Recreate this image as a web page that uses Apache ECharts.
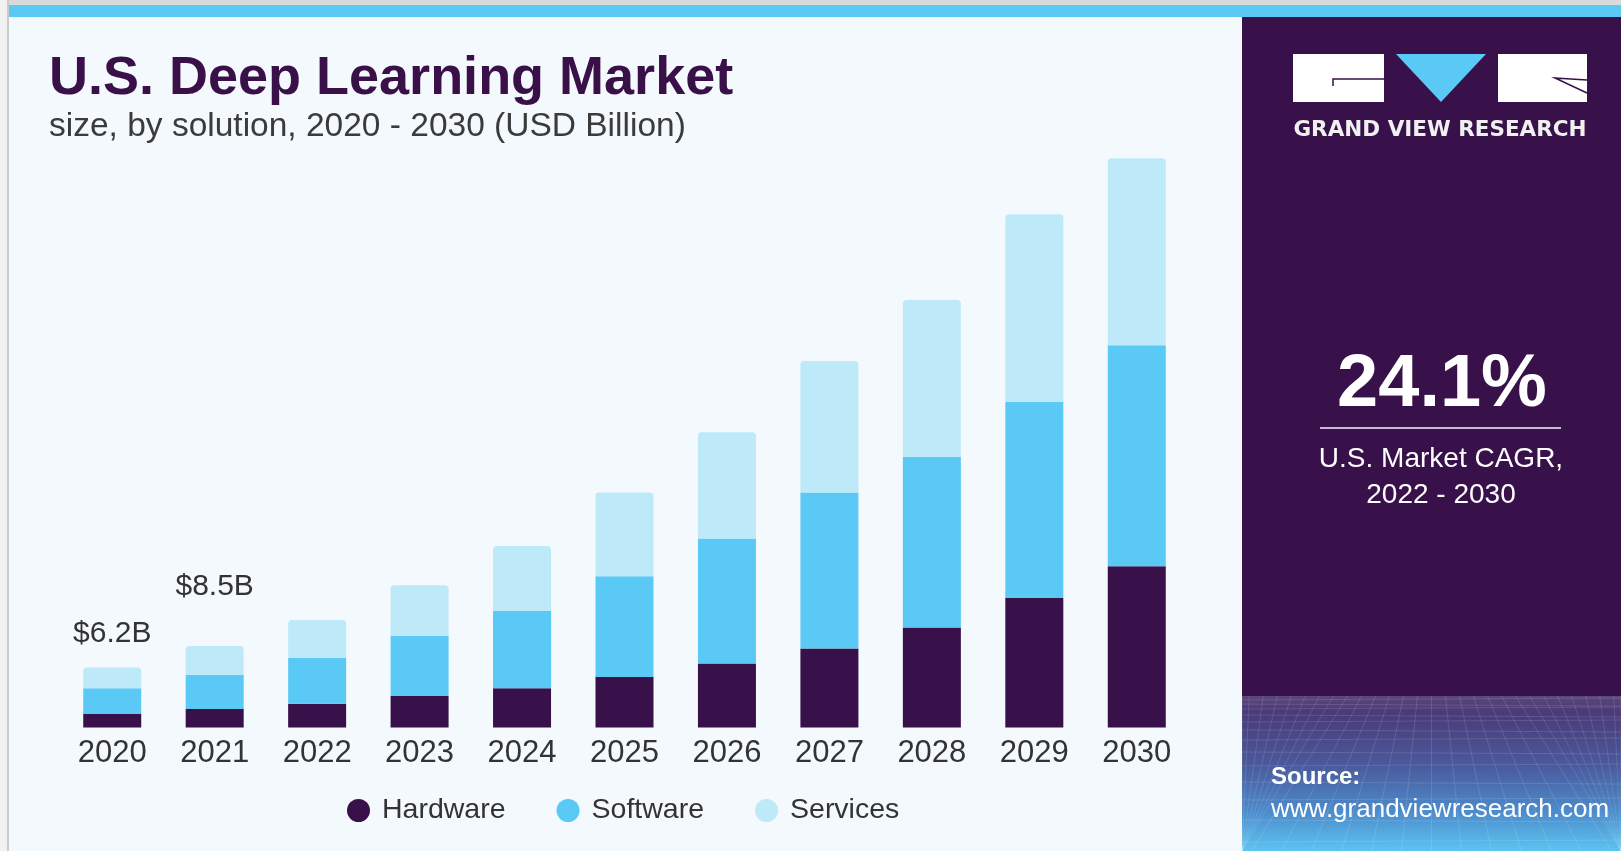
<!DOCTYPE html>
<html>
<head>
<meta charset="utf-8">
<script src="https://cdn.jsdelivr.net/npm/echarts@6/dist/echarts.min.js"></script>
<style>
html,body{margin:0;padding:0;background:#f3f9fc;}
#chart{width:1621px;height:851px;}
</style>
</head>
<body>
<div id="chart"></div>
<script>
// ---- data (USD Billion) ----
var years = ['2020','2021','2022','2023','2024','2025','2026','2027','2028','2029','2030'];
var hardware = [1.41, 1.93, 2.48, 3.28, 4.08, 5.27, 6.67, 8.23, 10.42, 13.50, 16.79];
var software = [2.68, 3.57, 4.79, 6.25, 8.05, 10.49, 13.02, 16.25, 17.79, 20.43, 23.03];
var services = [2.15, 2.99, 3.93, 5.28, 6.77, 8.72, 11.07, 13.71, 16.31, 19.53, 19.48];
var totalLabels = ['$6.2B', '$8.5B'];
var seriesNames = ['Hardware', 'Software', 'Services'];

var FONT = '"Liberation Sans", Arial, sans-serif';
var C_HW = '#38104a', C_SW = '#5bc9f5', C_SV = '#bde9f9', C_PANEL = '#39114a';

var labelDist = [19, 44];
var servicesData = services.map(function (v, i) {
  if (i < totalLabels.length) {
    return { value: v, label: { show: true, position: 'top', distance: labelDist[i],
      formatter: totalLabels[i], fontSize: 30, color: '#333333', fontFamily: FONT } };
  }
  return v;
});

// decorative mesh in the lower part of the side panel
var deco = [];
var PX = 1242, PW = 379, MY = 696, MB = 851;
(function () {
  var hy = [700, 704, 709, 715, 722, 730, 740, 752, 766, 782, 800, 820, 842];
  hy.forEach(function (y, k) {
    deco.push({ type: 'line', silent: true, z: 3,
      shape: { x1: PX, y1: y, x2: PX + PW, y2: y + (k % 2 ? 2 : -2) },
      style: { stroke: 'rgba(255,255,255,0.12)', lineWidth: 1 } });
  });
  var vx = PX + PW / 2, vy = 560;
  for (var j = -14; j <= 14; j++) {
    var xb = vx + j * 30;
    var t = (MY - vy) / (MB - vy);
    var xt = vx + (xb - vx) * t;
    deco.push({ type: 'line', silent: true, z: 3,
      shape: { x1: Math.max(PX, Math.min(PX + PW, xt)), y1: MY,
               x2: Math.max(PX, Math.min(PX + PW, xb)), y2: MB },
      style: { stroke: 'rgba(255,255,255,0.12)', lineWidth: 1 } });
  }
})();

var chart = echarts.init(document.getElementById('chart'), null, { renderer: 'canvas' });
var option = {
  backgroundColor: '#f3f9fc',
  animation: false,
  title: {
    text: 'U.S. Deep Learning Market',
    subtext: 'size, by solution, 2020 - 2030 (USD Billion)',
    left: 44, top: 47, itemGap: 4,
    textStyle: { fontFamily: FONT, fontSize: 54, fontWeight: 'bold', color: '#3a1048' },
    subtextStyle: { fontFamily: FONT, fontSize: 33.5, color: '#3b3b3b' }
  },
  legend: {
    data: seriesNames,
    left: 342, top: 791,
    icon: 'circle', itemWidth: 23, itemHeight: 23, itemGap: 51,
    textStyle: { fontFamily: FONT, fontSize: 28.5, color: '#333333', padding: [0, 0, 0, 7] }
  },
  grid: { left: 61, right: 433, top: 151.5, bottom: 123.5, containLabel: false },
  xAxis: {
    type: 'category', data: years,
    axisLine: { show: false }, axisTick: { show: false },
    axisLabel: { fontFamily: FONT, fontSize: 31, color: '#333333', margin: 10 }
  },
  yAxis: { type: 'value', min: 0, max: 60, show: false, splitLine: { show: false } },
  series: [
    { name: seriesNames[0], type: 'bar', stack: 'total', barWidth: 58, data: hardware,
      itemStyle: { color: C_HW } },
    { name: seriesNames[1], type: 'bar', stack: 'total', barWidth: 58, data: software,
      itemStyle: { color: C_SW } },
    { name: seriesNames[2], type: 'bar', stack: 'total', barWidth: 58, data: servicesData,
      itemStyle: { color: C_SV, borderRadius: [4, 4, 0, 0] } }
  ],
  graphic: [
    // frame
    { type: 'rect', silent: true, z: 1, shape: { x: 0, y: 0, width: 1621, height: 5 }, style: { fill: '#d9d9d9' } },
    { type: 'rect', silent: true, z: 1, shape: { x: 0, y: 0, width: 7, height: 851 }, style: { fill: '#f2f2f2' } },
    { type: 'rect', silent: true, z: 1, shape: { x: 7, y: 0, width: 2, height: 851 }, style: { fill: '#cbcbcb' } },
    { type: 'rect', silent: true, z: 1, shape: { x: 9, y: 5, width: 1612, height: 12 }, style: { fill: '#5bc9f5' } },
    // side panel
    { type: 'rect', silent: true, z: 1, shape: { x: 1242, y: 17, width: 379, height: 834 }, style: { fill: C_PANEL } },
    { type: 'rect', silent: true, z: 2, shape: { x: 1242, y: 696, width: 379, height: 155 },
      style: { fill: new echarts.graphic.LinearGradient(0, 0, 0, 1, [
        { offset: 0, color: '#5a4878' }, { offset: 0.1, color: '#4a3a78' },
        { offset: 0.45, color: '#4a5a9c' }, { offset: 0.75, color: '#4d8ccc' },
        { offset: 1, color: '#5cc4f0' }]) } },
    // logo
    { type: 'rect', silent: true, z: 4, shape: { x: 1293, y: 54, width: 91, height: 48 }, style: { fill: '#ffffff' } },
    { type: 'polyline', silent: true, z: 5, shape: { points: [[1384, 79], [1333, 79], [1333, 86]] },
      style: { stroke: C_PANEL, lineWidth: 1.5, fill: null } },
    { type: 'polygon', silent: true, z: 4, shape: { points: [[1396, 54], [1486, 54], [1441, 102]] }, style: { fill: '#5bc9f5' } },
    { type: 'rect', silent: true, z: 4, shape: { x: 1498, y: 54, width: 89, height: 48 }, style: { fill: '#ffffff' } },
    { type: 'polyline', silent: true, z: 5, shape: { points: [[1587, 80], [1555, 78], [1587, 93]] },
      style: { stroke: C_PANEL, lineWidth: 1.5, fill: null } },
    { type: 'text', silent: true, z: 5, style: { text: 'GRAND VIEW RESEARCH', x: 1440, y: 130,
      align: 'center', verticalAlign: 'middle', fill: '#f0f0f0',
      font: 'bold 21.5px "DejaVu Sans", sans-serif' } },
    // CAGR block
    { type: 'text', silent: true, z: 5, style: { text: '24.1%', x: 1442, y: 386,
      align: 'center', verticalAlign: 'middle', fill: '#ffffff', font: 'bold 74px ' + FONT } },
    { type: 'rect', silent: true, z: 5, shape: { x: 1320, y: 427, width: 241, height: 2 }, style: { fill: '#c9b9d9' } },
    { type: 'text', silent: true, z: 5, style: { text: 'U.S. Market CAGR,', x: 1441, y: 459,
      align: 'center', verticalAlign: 'middle', fill: '#ffffff', font: '28px ' + FONT } },
    { type: 'text', silent: true, z: 5, style: { text: '2022 - 2030', x: 1441, y: 495,
      align: 'center', verticalAlign: 'middle', fill: '#ffffff', font: '28px ' + FONT } },
    // source
    { type: 'text', silent: true, z: 6, style: { text: 'Source:', x: 1271, y: 777,
      align: 'left', verticalAlign: 'middle', fill: '#ffffff', font: 'bold 24px ' + FONT } },
    { type: 'text', silent: true, z: 6, style: { text: 'www.grandviewresearch.com', x: 1271, y: 810,
      align: 'left', verticalAlign: 'middle', fill: '#ffffff', font: '26px ' + FONT } }
  ].concat(deco)
};
chart.setOption(option);
</script>
</body>
</html>
